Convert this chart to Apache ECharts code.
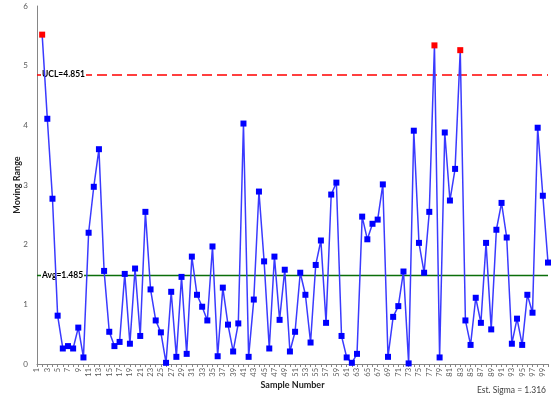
<!DOCTYPE html>
<html><head><meta charset="utf-8">
<script src="https://cdn.jsdelivr.net/npm/echarts@6/dist/echarts.min.js"></script>
<style>html,body{margin:0;padding:0;background:#fff}#c{width:558px;height:397px}</style>
</head><body><div id="c"></div>
<script>
const samples = Array.from({length: 100}, (_, i) => String(i + 1));
const movingRange = [null,
  5.52, 4.11, 2.77, 0.81, 0.26, 0.30, 0.26, 0.61, 0.11, 2.20,
  2.97, 3.60, 1.56, 0.54, 0.30, 0.37, 1.51, 0.34, 1.60, 0.47,
  2.55, 1.25, 0.73, 0.53, 0.02, 1.21, 0.12, 1.46, 0.17, 1.80,
  1.16, 0.96, 0.73, 1.97, 0.13, 1.28, 0.66, 0.21, 0.68, 4.03,
  0.12, 1.08, 2.89, 1.72, 0.26, 1.80, 0.74, 1.58, 0.21, 0.54,
  1.53, 1.16, 0.36, 1.66, 2.07, 0.69, 2.84, 3.04, 0.47, 0.11,
  0.02, 0.17, 2.47, 2.09, 2.35, 2.42, 3.01, 0.12, 0.79, 0.97,
  1.55, 0.01, 3.91, 2.03, 1.53, 2.55, 5.34, 0.11, 3.88, 2.74,
  3.27, 5.26, 0.73, 0.32, 1.11, 0.69, 2.03, 0.58, 2.25, 2.70,
  2.12, 0.34, 0.76, 0.32, 1.16, 0.86, 3.96, 2.82, 1.70];
const UCL = 4.851;
const AVG = 1.485;
const SIGMA = 1.316;

const FONT = 'Lato';
const chart = echarts.init(document.getElementById('c'), null, {renderer: 'canvas'});
chart.setOption({
  animation: false,
  backgroundColor: '#fff',
  textStyle: {fontFamily: FONT},
  title: {
    text: 'Est. Sigma = ' + SIGMA.toFixed(3),
    right: 12, top: 386, padding: 0,
    textStyle: {fontFamily: FONT, fontSize: 8.5, fontWeight: 'normal', color: '#404040'}
  },
  grid: {left: 37, right: 10, top: 6, bottom: 33},
  xAxis: {
    type: 'category', data: samples, boundaryGap: false,
    name: 'Sample Number', nameLocation: 'middle', nameGap: 17, nameMoveOverlap: false,
    nameTextStyle: {fontFamily: FONT, fontSize: 9, fontWeight: 'bold', color: '#222'},
    axisLine: {lineStyle: {color: '#868686', width: 1}},
    axisTick: {interval: 0, length: 3, lineStyle: {color: '#868686'}},
    axisLabel: {interval: 1, rotate: 90, fontSize: 7.5, color: '#595959', margin: 4, fontFamily: FONT}
  },
  yAxis: {
    type: 'value', min: 0, max: 6, interval: 1,
    name: 'Moving Range', nameLocation: 'middle', nameGap: 15, nameRotate: 90, nameMoveOverlap: false,
    nameTextStyle: {fontFamily: FONT, fontSize: 9, fontWeight: 'bold', color: '#222'},
    axisLine: {show: true, lineStyle: {color: '#868686', width: 1}},
    axisTick: {show: false},
    splitLine: {show: false},
    axisLabel: {fontSize: 8, color: '#595959', margin: 9, fontFamily: FONT}
  },
  series: [{
    type: 'line',
    data: movingRange.map(v => (v !== null && v > UCL) ? {value: v, itemStyle: {color: '#FF0000'}} : v),
    symbol: 'rect', symbolSize: 6, showAllSymbol: true,
    itemStyle: {color: '#0000FF'},
    lineStyle: {color: '#3a3aff', width: 1.5},
    z: 3,
    markLine: {
      silent: true, symbol: 'none', z: 2,
      data: [
        {yAxis: UCL,
         lineStyle: {color: '#FF0000', type: [10, 5], width: 1.5},
         label: {show: true, position: 'insideStartTop', formatter: 'UCL=' + UCL.toFixed(3),
                 verticalAlign: 'middle', distance: [4, 0], fontSize: 8.5, fontWeight: 'bold',
                 color: '#000', backgroundColor: '#fff', padding: [1, 1], fontFamily: FONT}},
        {yAxis: AVG,
         lineStyle: {color: '#0a6e0a', type: 'solid', width: 1.3},
         label: {show: true, position: 'insideStartTop', formatter: 'Avg=' + AVG.toFixed(3),
                 verticalAlign: 'middle', distance: [4, 0], fontSize: 8.5, fontWeight: 'bold',
                 color: '#000', backgroundColor: '#fff', padding: [1, 1], fontFamily: FONT}}
      ]
    }
  }]
});
</script></body></html>
